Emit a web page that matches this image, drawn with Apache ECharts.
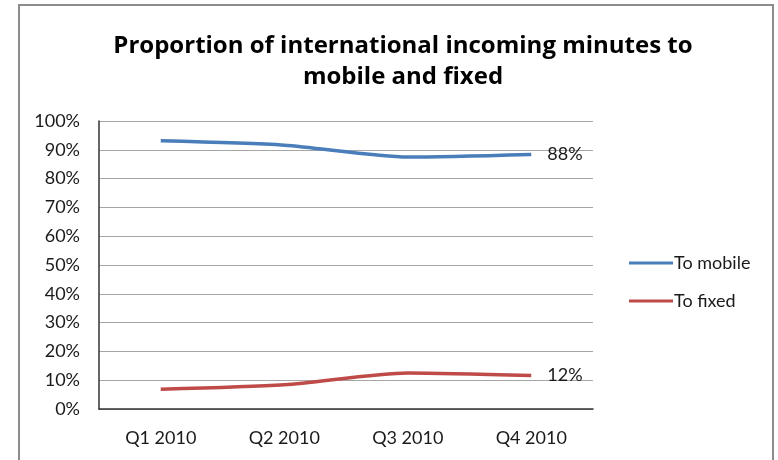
<!DOCTYPE html>
<html>
<head>
<meta charset="utf-8">
<script src="https://cdn.jsdelivr.net/npm/echarts@6/dist/echarts.min.js"></script>
<style>
  html, body { margin: 0; padding: 0; background: #fff; }
  #chart { width: 778px; height: 460px; }
</style>
</head>
<body>
<div id="chart"></div>
<script>
const categories = ['Q1 2010', 'Q2 2010', 'Q3 2010', 'Q4 2010'];
const toMobile = [93.1, 91.6, 87.5, 88.4];
const toFixed = [6.9, 8.4, 12.5, 11.6];
const seriesNames = ['To mobile', 'To fixed'];

const font = 'Lato, "Open Sans", sans-serif';

// excel only labels the last point, endLabel does the same
const lastLabel = {
  show: true,
  distance: 16,
  color: '#1a1a1a',
  fontSize: 18,
  fontFamily: font,
  formatter: (p) => Math.round(p.value) + '%'
};

const myChart = echarts.init(document.getElementById('chart'));
const option = {
  animation: false,
  color: ['#4a7ebb', '#be4b48'],
  title: {
    text: 'Proportion of international incoming minutes to\nmobile and fixed',
    left: 398,
    top: 26,
    textAlign: 'center',
    textStyle: {
      fontFamily: '"Open Sans", sans-serif',
      fontWeight: 'bold',
      fontSize: 24,
      lineHeight: 31,
      color: '#000'
    }
  },
  graphic: [{
    type: 'rect',
    shape: { x: 19, y: 5, width: 754, height: 470 },
    style: { fill: 'none', stroke: '#8c8c8c', lineWidth: 2 },
    silent: true
  }],
  legend: {
    orient: 'vertical',
    left: 624,
    top: 249,
    itemWidth: 44,
    itemHeight: 3,
    itemGap: 20,
    icon: 'rect',
    data: seriesNames,
    textStyle: { fontFamily: font, fontSize: 18, color: '#1a1a1a', padding: [0, 0, 0, -4] }
  },
  grid: { left: 99, top: 121, width: 494, height: 288 },
  xAxis: {
    type: 'category',
    data: categories,
    boundaryGap: true,
    axisLine: { lineStyle: { color: '#333', width: 1.5 } },
    axisTick: { show: false },
    axisLabel: { fontFamily: font, fontSize: 18, color: '#1a1a1a', margin: 20 }
  },
  yAxis: {
    type: 'value',
    min: 0,
    max: 100,
    interval: 10,
    axisLine: { show: true, lineStyle: { color: '#333', width: 1.5 } },
    axisTick: { show: false },
    splitLine: { lineStyle: { color: '#a6a6a6', width: 1 } },
    axisLabel: { fontFamily: font, fontSize: 18, color: '#1a1a1a', margin: 19, formatter: '{value}%' }
  },
  series: [
    {
      name: seriesNames[0],
      type: 'line',
      data: toMobile,
      smooth: 0.25,
      symbol: 'none',
      lineStyle: { width: 3.5 },
      endLabel: lastLabel
    },
    {
      name: seriesNames[1],
      type: 'line',
      data: toFixed,
      smooth: 0.25,
      symbol: 'none',
      lineStyle: { width: 3.5 },
      endLabel: lastLabel
    }
  ]
};
myChart.setOption(option);
</script>
</body>
</html>
